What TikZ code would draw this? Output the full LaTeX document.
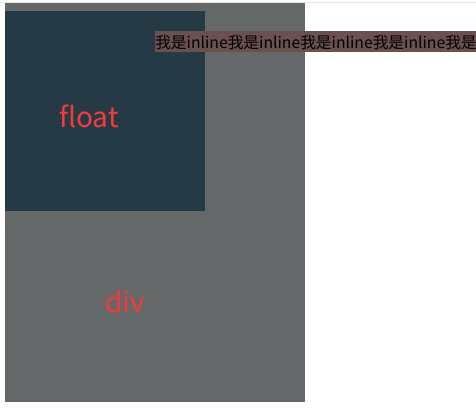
\documentclass[tikz,border=0pt]{standalone}
\usepackage{fontspec}
\newfontfamily\cjkfont{Noto Sans CJK SC}
\usepackage{xcolor}
\usetikzlibrary{positioning}
\definecolor{divgray}{RGB}{101,104,104}
\definecolor{floatblue}{RGB}{38,58,70}
\definecolor{inlinebrown}{RGB}{107,80,80}
\definecolor{labelred}{RGB}{245,58,58}
\tikzset{
  box/.style={rectangle, inner sep=0pt, anchor=north west},
  divbox/.style={box, fill=divgray, minimum width=225pt, minimum height=299.25pt},
  floatbox/.style={box, fill=floatblue, minimum width=150pt, minimum height=150pt},
  inlinebox/.style={anchor=base west, fill=inlinebrown, inner sep=0pt, text height=12.75pt, text depth=3pt, text width=244pt, align=left, font=\cjkfont\fontsize{11.8pt}{14pt}\selectfont, text=black},
  lab/.style={anchor=base, text=labelred, font=\cjkfont\fontsize{21pt}{24pt}\selectfont}
}

\begin{document}
\begin{tikzpicture}[x=0.75pt, y=-0.75pt]
\useasboundingbox (0,0) rectangle (476,412);
\clip (0,0) rectangle (476,412);
% page edge
\draw[gray!22, line width=0.75pt] (0,2) -- (476,2);
% block and float
\node[divbox] (div) at (5,3) {};
\node[floatbox] (float) at (5,11) {};
\node[lab] (floatlab) at (89,127) {float};
\node[lab] (divlab) at (125,312) {div};
% inline run
\node[inlinebox] (inline) at (155,48) {我是inline我是inline我是inline我是inline我是};
\end{tikzpicture}
\end{document}
